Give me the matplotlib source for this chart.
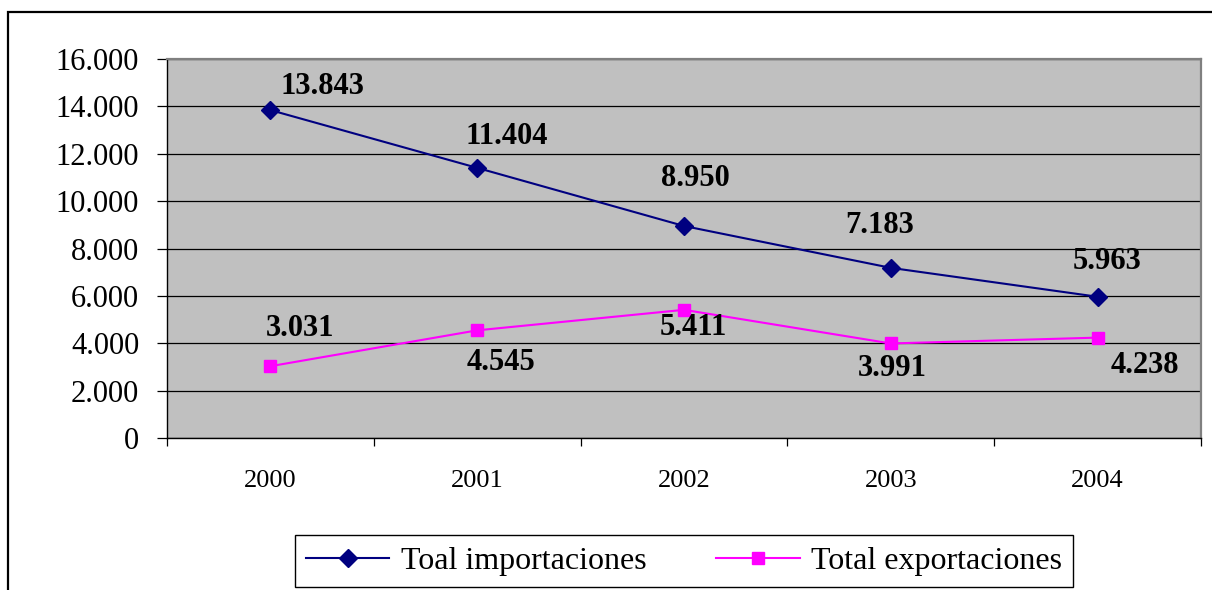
import matplotlib
matplotlib.use("Agg")
import matplotlib.pyplot as plt
from matplotlib.lines import Line2D
from matplotlib.ticker import FuncFormatter, FixedLocator
from matplotlib.patches import Rectangle

years = ["2000", "2001", "2002", "2003", "2004"]
importaciones = [13843, 11404, 8950, 7183, 5963]
exportaciones = [3031, 4545, 5411, 3991, 4238]
labels_imp = ["13.843", "11.404", "8.950", "7.183", "5.963"]
labels_exp = ["3.031", "4.545", "5.411", "3.991", "4.238"]
series_names = ["Toal importaciones", "Total exportaciones"]

# label offsets in pixels (layout)
off_imp = [(52, 24), (30, 31), (11, 47), (-11, 42), (9, 35)]
off_exp = [(30, 38), (24, -32), (9, -18), (2, -25), (47, -28)]

plt.rcParams['font.family'] = ['Liberation Serif', 'DejaVu Serif']

W, H = 1212, 590
fig = plt.figure(figsize=(W / 100, H / 100), dpi=100)
fig.patch.set_facecolor('white')

# outer chart frame (extends beyond right/bottom edges)
fig.add_artist(Rectangle((8 / W, -0.1), 1.2, (H - 12) / H + 0.1, transform=fig.transFigure,
                         fill=False, edgecolor='black', linewidth=1.6, zorder=0))

ax = fig.add_axes([167 / W, (H - 438) / H, 1034 / W, 379 / H])
ax.set_facecolor('#C0C0C0')

x = list(range(len(years)))
ax.plot(x, importaciones, color='#000080', linewidth=1.5, marker='D', markersize=9,
        markerfacecolor='#000080', markeredgecolor='#000080', zorder=3)
ax.plot(x, exportaciones, color='#FF00FF', linewidth=1.5, marker='s', markersize=8,
        markerfacecolor='#FF00FF', markeredgecolor='#FF00FF', zorder=3)

for xi, v, t, (dx, dy) in zip(x, importaciones, labels_imp, off_imp):
    ax.annotate(t, (xi, v), xytext=(dx, dy), textcoords='offset pixels',
                ha='center', va='center', fontsize=22, fontweight='bold', zorder=4)
for xi, v, t, (dx, dy) in zip(x, exportaciones, labels_exp, off_exp):
    ax.annotate(t, (xi, v), xytext=(dx, dy), textcoords='offset pixels',
                ha='center', va='center', fontsize=22, fontweight='bold', zorder=4)

ax.set_xlim(-0.5, len(years) - 0.5)
ax.set_ylim(0, 16000)
ax.set_yticks(range(0, 16001, 2000))
ax.yaxis.set_major_formatter(FuncFormatter(lambda v, p: f"{int(v):,}".replace(",", ".")))
ax.grid(axis='y', color='black', linewidth=0.9)
ax.set_axisbelow(True)

ax.set_xticks(x)
ax.set_xticklabels(years)
ax.xaxis.set_minor_locator(FixedLocator([i - 0.5 for i in range(len(years) + 1)]))
ax.tick_params(axis='x', which='major', length=0, pad=23, labelsize=19)
ax.tick_params(axis='x', which='minor', length=6, width=0.9, direction='out', color='black')
ax.tick_params(axis='y', length=7, width=0.9, direction='out', pad=13, labelsize=22)

for s in ['top', 'right']:
    ax.spines[s].set_color('#808080')
    ax.spines[s].set_linewidth(1.6)
for s in ['left', 'bottom']:
    ax.spines[s].set_color('black')
    ax.spines[s].set_linewidth(1.0)

handles = [
    Line2D([], [], color='#000080', linewidth=1.5, marker='D', markersize=9),
    Line2D([], [], color='#FF00FF', linewidth=1.5, marker='s', markersize=8),
]
leg = fig.legend(handles, series_names, loc='lower center', ncol=2,
                 bbox_to_anchor=(684 / W, 3 / H), frameon=True, fancybox=False,
                 edgecolor='black', framealpha=1, fontsize=23, handlelength=2.6,
                 handletextpad=0.35, columnspacing=2.2, borderpad=0.35,
                 borderaxespad=0)
leg.get_frame().set_linewidth(1.0)

fig.savefig("out.png", dpi=100)
